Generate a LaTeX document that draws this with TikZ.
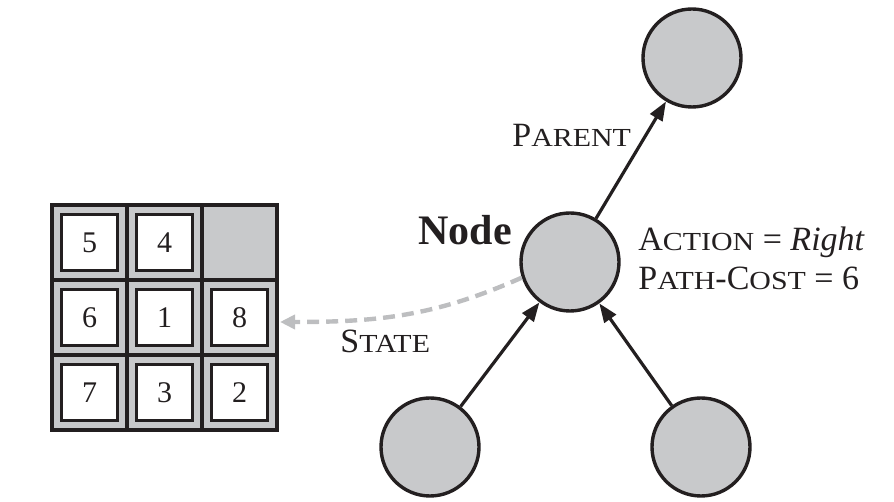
\documentclass[tikz,border=0pt]{standalone}
\usepackage{fontspec}
\setmainfont{Liberation Serif}
\newfontfamily\scfont[FakeStretch=1.15]{Liberation Serif}
\usetikzlibrary{arrows.meta}
\definecolor{nodegray}{HTML}{C8C9CB}
\definecolor{ink}{HTML}{231F20}
\definecolor{dashgray}{HTML}{BDBEC0}
\newcommand\bigsz{\fontsize{17}{20}\selectfont}
\newcommand\fsc[2]{#1{\scfont\fontsize{13}{15}\selectfont #2}}
\begin{document}
\begin{tikzpicture}[x=0.5pt,y=0.5pt,
  treenode/.style={circle,draw=ink,fill=nodegray,line width=1.7pt,minimum size=49pt,inner sep=0},
  link/.style={draw=ink,line width=1.6pt,-{Triangle[length=9.5pt,width=7pt]}},
  tile/.style={draw=ink,fill=white,line width=1.3pt,minimum size=28pt,inner sep=0,text=ink,font=\fontsize{15}{17}\selectfont},
  lbl/.style={anchor=base west,inner sep=0,text=ink,font=\bigsz},
  statelink/.style={draw=dashgray,line width=2.2pt,dash pattern=on 6pt off 3.5pt,-{Triangle[length=7.5pt,width=7pt]}},
  boardline/.style={draw=ink,line width=2.4pt}
]
\useasboundingbox (0,0) rectangle (894,502);
% board
\fill[nodegray] (52,72) rectangle (277,297);
\draw[boardline] (127,72) -- (127,297);
\draw[boardline] (202,72) -- (202,297);
\draw[boardline] (52,222) -- (277,222);
\draw[boardline] (52,147) -- (277,147);
\draw[boardline] (52,72) rectangle (277,297);
\node[tile] (t5) at (89.5,259.5) {5};
\node[tile] (t4) at (164.5,259.5) {4};
\node[tile] (t6) at (89.5,184.5) {6};
\node[tile] (t1) at (164.5,184.5) {1};
\node[tile] (t8) at (239.5,184.5) {8};
\node[tile] (t7) at (89.5,109.5) {7};
\node[tile] (t3) at (164.5,109.5) {3};
\node[tile] (t2) at (239.5,109.5) {2};
\coordinate (stend) at (280,180);
% tree
\node[treenode] (top) at (692,444) {};
\node[treenode] (node) at (570,240) {};
\node[treenode] (bl) at (430,55) {};
\node[treenode] (br) at (701,55) {};
\draw[link] (node) -- (top);
\draw[link] (bl) -- (node);
\draw[link] (br) -- (node);
\draw[statelink] (node.198) to[out=204,in=0] (stend);
% labels
\node[lbl] (lparent) at (512,355) {\fsc{P}{ARENT}};
\node[lbl,font=\fontsize{21}{24}\selectfont\bfseries] (lnode) at (418,257) {Node};
\node[lbl] (laction) at (638,251) {\fsc{A}{CTION} = \textit{Right}};
\node[lbl] (lcost) at (638,212) {\fsc{P}{ATH}-\fsc{C}{OST} = 6};
\node[lbl] (lstate) at (340,149) {\fsc{S}{TATE}};
\end{tikzpicture}
\end{document}
